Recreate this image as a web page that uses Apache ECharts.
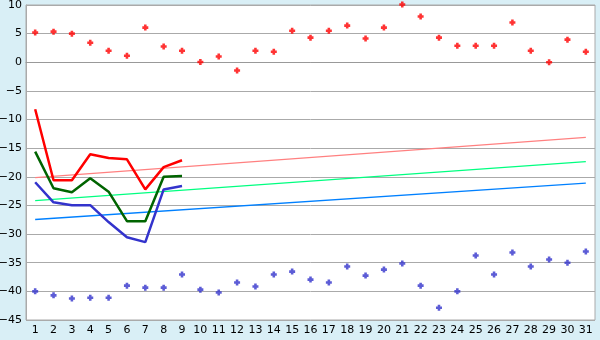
<!DOCTYPE html>
<html><head><meta charset="utf-8">
<script src="https://cdn.jsdelivr.net/npm/echarts@6/dist/echarts.min.js"></script>
<style>html,body{margin:0;padding:0;background:#d9eff6;}#c{width:600px;height:340px;}</style>
</head><body><div id="c"></div>
<script>
const categories = ['1','2','3','4','5','6','7','8','9','10','11','12','13','14','15','16','17','18','19','20','21','22','23','24','25','26','27','28','29','30','31'];
const redPoints = [5.2,5.35,5.0,3.4,2.0,1.15,6.05,2.75,2.0,0.05,1.0,-1.45,2.0,1.85,5.5,4.3,5.5,6.4,4.15,6.05,10.1,8.0,4.3,2.9,2.9,2.9,6.95,2.0,0,3.95,1.85];
const bluePoints = [-40.0,-40.7,-41.25,-41.1,-41.1,-39.0,-39.35,-39.35,-37.05,-39.7,-40.2,-38.45,-39.15,-37.05,-36.55,-37.95,-38.45,-35.65,-37.25,-36.2,-35.15,-39.0,-42.85,-40.0,-33.75,-37.05,-33.2,-35.65,-34.45,-35.0,-33.05];
const redLine = [-8.2,-20.6,-20.6,-16.05,-16.7,-16.95,-22.2,-18.3,-17.1];
const greenLine = [-15.6,-22.0,-22.7,-20.25,-22.6,-27.75,-27.75,-20.0,-19.85];
const blueLine = [-20.95,-24.45,-24.95,-24.95,-27.9,-30.55,-31.4,-22.2,-21.6];
const pinkTrend = [-20.15,-13.1];
const greenTrend = [-24.15,-17.35];
const blueTrend = [-27.45,-21.1];
const yTicks = {min:-45,max:10,interval:5};

const plus = 'path://M2,0H5V2H7V5H5V7H2V5H0V2H2Z';
function trend(vals){ return [[0, vals[0]], [categories.length-1, vals[1]]]; }

const chart = echarts.init(document.getElementById('c'), null, {renderer:'canvas'});
const font = {fontFamily:'DejaVu Sans', fontSize:11, color:'#000'};
chart.setOption({
  animation:false,
  backgroundColor:'#d9eff6',
  grid:{left:26,right:5,top:5,bottom:20,containLabel:false,outerBoundsMode:'none',show:true,backgroundColor:'#fff',borderColor:'#aaa',borderWidth:1},
  xAxis:{type:'category',data:categories,boundaryGap:true,
    axisLine:{lineStyle:{color:'#999'}},
    axisTick:{alignWithLabel:true,length:5,lineStyle:{color:'#444'}},
    axisLabel:Object.assign({margin:5,interval:0},font),
    splitLine:{show:false}},
  yAxis:{type:'value',min:yTicks.min,max:yTicks.max,interval:yTicks.interval,
    axisLine:{show:true,lineStyle:{color:'#aaa'}},
    axisTick:{show:false},
    axisLabel:Object.assign({margin:4},font,{formatter:v=>String(v).replace('-','\u2212')}),
    splitLine:{lineStyle:{color:'#aaa',width:1}}},
  series:[
    {type:'line',data:trend(pinkTrend),symbol:'none',lineStyle:{color:'#ff8080',width:1.3},z:2},
    {type:'line',data:trend(greenTrend),symbol:'none',lineStyle:{color:'#00ff80',width:1.3},z:2},
    {type:'line',data:trend(blueTrend),symbol:'none',lineStyle:{color:'#0080ff',width:1.3},z:2},
    {type:'line',data:redLine,symbol:'none',lineStyle:{color:'#ff0000',width:2.5},z:3},
    {type:'line',data:greenLine,symbol:'none',lineStyle:{color:'#006400',width:2.5},z:3},
    {type:'line',data:blueLine,symbol:'none',lineStyle:{color:'#3333cc',width:2.5},z:3},
    {type:'scatter',data:redPoints,symbol:plus,symbolSize:6,clip:false,itemStyle:{color:'#ff0000'},z:4},
    {type:'scatter',data:bluePoints,symbol:plus,symbolSize:6,clip:false,itemStyle:{color:'#3333cc'},z:4}
  ]
});
</script></body></html>
